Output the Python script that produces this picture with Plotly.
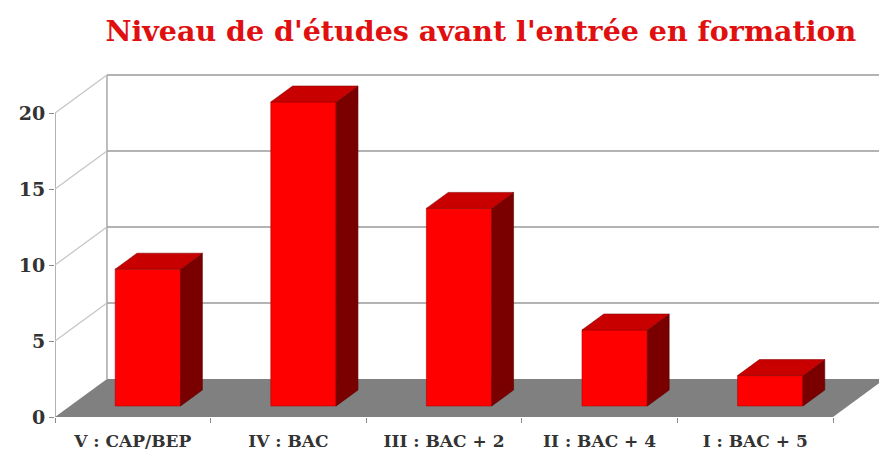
import plotly.graph_objects as go

# ---- data ----
categories = ["V : CAP/BEP", "IV : BAC", "III : BAC + 2", "II : BAC + 4", "I : BAC + 5"]
values = [9, 20, 13, 5, 2]
y_ticks = [0, 5, 10, 15, 20]
title_text = "Niveau de d'études avant l'entrée en formation"

# ---- pseudo-3D geometry (axis units) ----
DX, DY = 0.334, 2.5          # depth of the whole chart box
F0, F1 = 0.29, 0.71          # depth fraction of bar front / back face
BW = 0.42                    # bar width (category units)
X_MAX = -0.5 + 824 / 155.6
Y_MAX = 357 / 15.2

RED = "#ff0000"
TOP = "#c80000"
SIDE = "#7a0000"
GRID = "#9a9a9a"
SIDEGRID = "#c4c4c4"
FONT = "DejaVu Serif"

fig = go.Figure()

shapes = []
# floor
shapes.append(dict(type="path", layer="below", xref="x", yref="y",
                   path=f"M -0.5 0 L 4.5 0 L {4.5+DX} {DY} L {-0.5+DX} {DY} Z",
                   fillcolor="#808080", line=dict(width=0)))
# back wall vertical edge
shapes.append(dict(type="line", layer="below", xref="x", yref="y",
                   x0=-0.5+DX, y0=DY, x1=-0.5+DX, y1=y_ticks[-1]+DY,
                   line=dict(color=GRID, width=1.3)))
# front axis line
shapes.append(dict(type="line", layer="below", xref="x", yref="y",
                   x0=-0.5, y0=0, x1=-0.5, y1=y_ticks[-1],
                   line=dict(color="#8a8a8a", width=1.3)))
for t in y_ticks[1:]:
    # back wall grid
    shapes.append(dict(type="line", layer="below", xref="x", yref="y",
                       x0=-0.5+DX, y0=t+DY, x1=X_MAX+1, y1=t+DY,
                       line=dict(color=GRID, width=1.5)))
    # side wall diagonal
    shapes.append(dict(type="line", layer="below", xref="x", yref="y",
                       x0=-0.5, y0=t, x1=-0.5+DX, y1=t+DY,
                       line=dict(color=SIDEGRID, width=1.2)))

# bars: side & top faces as filled polygons, front face as bar trace
bdx, bdy = (F1-F0)*DX, (F1-F0)*DY
fx, fy = F0*DX, F0*DY
for i, v in enumerate(values):
    x0 = i - BW/2 + fx
    x1 = i + BW/2 + fx
    base = fy
    top = fy + v
    fig.add_trace(go.Scatter(
        x=[x1, x1+bdx, x1+bdx, x1, x1], y=[base, base+bdy, top+bdy, top, base],
        fill="toself", fillcolor=SIDE, mode="lines", line=dict(width=0.6, color="#5a0000"),
        hoverinfo="skip", showlegend=False))
    fig.add_trace(go.Scatter(
        x=[x0, x1, x1+bdx, x0+bdx, x0], y=[top, top, top+bdy, top+bdy, top],
        fill="toself", fillcolor=TOP, mode="lines", line=dict(width=0.6, color="#8a0000"),
        hoverinfo="skip", showlegend=False))

fig.add_trace(go.Bar(
    x=[i + fx for i in range(len(values))], y=values, base=[fy]*len(values),
    width=BW, marker=dict(color=RED, line=dict(width=0.6, color="#b00000")),
    showlegend=False))

fig.update_layout(
    width=879, height=452,
    margin=dict(l=55, r=0, t=60, b=35),
    paper_bgcolor="white", plot_bgcolor="white",
    shapes=shapes,
    title=dict(text=f"<b>{title_text}</b>", x=0.547, xanchor="center", y=0.932, yanchor="middle",
               font=dict(family=FONT, size=28.5, color="#e01010")),
    xaxis=dict(range=[-0.5, X_MAX], showgrid=False, zeroline=False, showline=False,
               automargin=False,
               tickmode="array", tickvals=list(range(len(categories))), ticktext=categories,
               ticks="", ticklabelstandoff=12,
               tickfont=dict(family=FONT, size=17, color="#333333", weight="bold"),
               minor=dict(tickmode="array", tickvals=[k - 0.5 for k in range(len(categories)+1)],
                          ticks="outside", ticklen=5, tickcolor="#8a8a8a", tickwidth=1.2)),
    yaxis=dict(range=[0, Y_MAX], showgrid=False, zeroline=False, showline=False,
               automargin=False,
               tickmode="array", tickvals=y_ticks, ticks="outside", ticklen=5,
               tickcolor="#8a8a8a", tickwidth=1.2,
               tickfont=dict(family=FONT, size=19, color="#333333", weight="bold")),
)

fig.write_html("out.html", config={"displayModeBar": False},
               post_script="document.body.style.margin='0';")
